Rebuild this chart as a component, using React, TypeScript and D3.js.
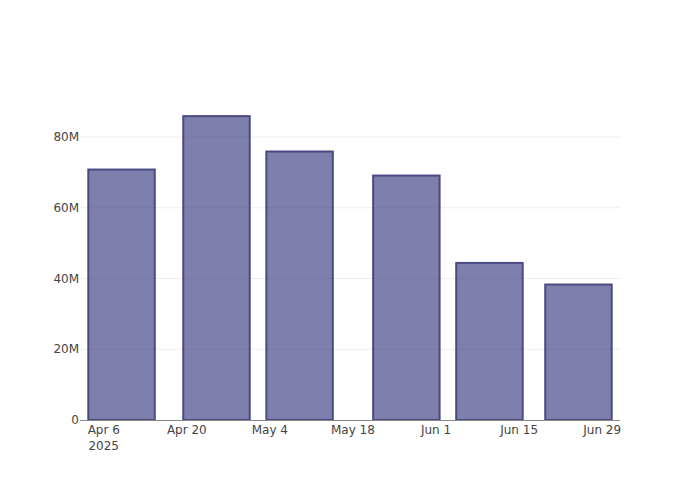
import React from "react";
import * as d3 from "d3";

const dates = ["2025-04-09", "2025-04-25", "2025-05-09", "2025-05-27", "2025-06-10", "2025-06-25"];
const values = [70.8e6, 85.9e6, 75.9e6, 69.1e6, 44.4e6, 38.3e6];
const xTicks = ["2025-04-06", "2025-04-20", "2025-05-04", "2025-05-18", "2025-06-01", "2025-06-15", "2025-06-29"];
const yTicks = [0, 20e6, 40e6, 60e6, 80e6];

const W = 700, H = 500;
const M = { left: 80, right: 80, top: 100, bottom: 80 };
const parse = d3.utcParse("%Y-%m-%d");

export default function App() {
  const x = d3.scaleUtc()
    .domain([parse("2025-04-02")!, parse("2025-07-02")!])
    .range([M.left, W - M.right]);
  const yS = d3.scaleLinear().domain([0, 80e6]).range([420, 137]);
  const dayPx = x(parse("2025-04-07")!) - x(parse("2025-04-06")!);
  const barW = 0.8 * 14 * dayPx;
  const fmtTick = (d: string) => d3.utcFormat("%b %-d")(parse(d)!);
  const yFmt = (v: number) => (v === 0 ? "0" : `${v / 1e6}M`);
  const font = "'DejaVu Sans', sans-serif";
  return (
    <svg width={W} height={H} style={{ position: "absolute", left: 0, top: 0, background: "#fff" }} fontFamily={font}>
      {yTicks.filter((t) => t > 0).map((t) => (
        <line key={t} x1={M.left} x2={W - M.right} y1={yS(t)} y2={yS(t)} stroke="#eeeeee" strokeWidth={1} />
      ))}
      {dates.map((d, i) => {
        const cx = x(parse(d)!);
        return (
          <rect key={d} x={cx - barW / 2} y={yS(values[i])} width={barW} height={yS(0) - yS(values[i])}
            fill="rgba(42,42,120,0.6)" stroke="#4a4a82" strokeWidth={2} />
        );
      })}
      <line x1={M.left} x2={W - M.right} y1={yS(0) + 0.5} y2={yS(0) + 0.5} stroke="#888" strokeWidth={1} />
      {yTicks.map((t) => (
        <text key={t} x={M.left - 1} y={yS(t)} dy="0.35em" textAnchor="end" fontSize={12} fill="#444">{yFmt(t)}</text>
      ))}
      {xTicks.map((d, i) => (
        <text key={d} x={x(parse(d)!)} y={434} textAnchor="middle" fontSize={12} fill="#444">
          <tspan x={x(parse(d)!)} dy="0">{fmtTick(d)}</tspan>
          {i === 0 && <tspan x={x(parse(d)!)} dy="16">2025</tspan>}
        </text>
      ))}
    </svg>
  );
}
